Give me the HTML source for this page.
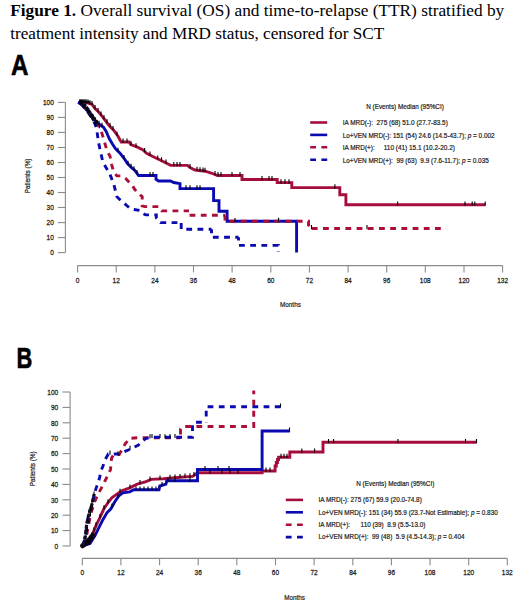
<!DOCTYPE html>
<html><head><meta charset="utf-8">
<style>
html,body{margin:0;padding:0;background:#fff;}
body{width:520px;height:604px;overflow:hidden;position:relative;}
svg{position:absolute;left:0;top:0;}
.tk{font-family:"Liberation Sans",sans-serif;font-size:7.6px;fill:#1a1a1a;stroke:#1a1a1a;stroke-width:0.25px;}
.tk8{font-family:"Liberation Sans",sans-serif;font-size:8px;fill:#1a1a1a;stroke:#1a1a1a;stroke-width:0.22px;}
.lg{font-family:"Liberation Sans",sans-serif;font-size:8.1px;fill:#1a1a1a;stroke:#1a1a1a;stroke-width:0.22px;}
.ttl{font-family:"Liberation Serif",serif;font-size:17.25px;fill:#000;}
.pl{font-family:"Liberation Sans",sans-serif;font-weight:bold;font-size:28.8px;fill:#000;stroke:#000;stroke-width:0.6px;}
</style></head><body>
<svg width="520" height="604" viewBox="0 0 520 604">
<text x="10.2" y="16.3" class="ttl" textLength="494" lengthAdjust="spacingAndGlyphs"><tspan font-weight="bold">Figure 1.</tspan> Overall survival (OS) and time-to-relapse (TTR) stratified by</text>
<text x="10.2" y="38.5" class="ttl" textLength="374" lengthAdjust="spacingAndGlyphs">treatment intensity and MRD status, censored for SCT</text>
<text transform="translate(11,74.8) scale(0.84,1)" class="pl">A</text>
<text transform="translate(16.5,367.6) scale(0.76,1)" class="pl">B</text>
<path d="M65.4,102.4 V252.6" stroke="#8a8a8a" stroke-width="1.1" fill="none"/>
<path d="M57.8,252.6 H65.4" stroke="#8a8a8a" stroke-width="1.1"/>
<text transform="translate(53.8,255.3) scale(0.86,1)" class="tk" text-anchor="end">0</text>
<path d="M57.8,237.6 H65.4" stroke="#8a8a8a" stroke-width="1.1"/>
<text transform="translate(53.8,240.3) scale(0.86,1)" class="tk" text-anchor="end">10</text>
<path d="M57.8,222.6 H65.4" stroke="#8a8a8a" stroke-width="1.1"/>
<text transform="translate(53.8,225.3) scale(0.86,1)" class="tk" text-anchor="end">20</text>
<path d="M57.8,207.5 H65.4" stroke="#8a8a8a" stroke-width="1.1"/>
<text transform="translate(53.8,210.2) scale(0.86,1)" class="tk" text-anchor="end">30</text>
<path d="M57.8,192.5 H65.4" stroke="#8a8a8a" stroke-width="1.1"/>
<text transform="translate(53.8,195.2) scale(0.86,1)" class="tk" text-anchor="end">40</text>
<path d="M57.8,177.5 H65.4" stroke="#8a8a8a" stroke-width="1.1"/>
<text transform="translate(53.8,180.2) scale(0.86,1)" class="tk" text-anchor="end">50</text>
<path d="M57.8,162.5 H65.4" stroke="#8a8a8a" stroke-width="1.1"/>
<text transform="translate(53.8,165.2) scale(0.86,1)" class="tk" text-anchor="end">60</text>
<path d="M57.8,147.5 H65.4" stroke="#8a8a8a" stroke-width="1.1"/>
<text transform="translate(53.8,150.2) scale(0.86,1)" class="tk" text-anchor="end">70</text>
<path d="M57.8,132.4 H65.4" stroke="#8a8a8a" stroke-width="1.1"/>
<text transform="translate(53.8,135.1) scale(0.86,1)" class="tk" text-anchor="end">80</text>
<path d="M57.8,117.4 H65.4" stroke="#8a8a8a" stroke-width="1.1"/>
<text transform="translate(53.8,120.1) scale(0.86,1)" class="tk" text-anchor="end">90</text>
<path d="M57.8,102.4 H65.4" stroke="#8a8a8a" stroke-width="1.1"/>
<text transform="translate(53.8,105.1) scale(0.86,1)" class="tk" text-anchor="end">100</text>
<path d="M77.6,265.6 H502.6" stroke="#8a8a8a" stroke-width="1.1" fill="none"/>
<path d="M77.6,265.6 v6.8" stroke="#8a8a8a" stroke-width="1.1"/>
<text transform="translate(77.6,282.6) scale(0.86,1)" class="tk" text-anchor="middle">0</text>
<path d="M116.2,265.6 v6.8" stroke="#8a8a8a" stroke-width="1.1"/>
<text transform="translate(116.2,282.6) scale(0.86,1)" class="tk" text-anchor="middle">12</text>
<path d="M154.9,265.6 v6.8" stroke="#8a8a8a" stroke-width="1.1"/>
<text transform="translate(154.9,282.6) scale(0.86,1)" class="tk" text-anchor="middle">24</text>
<path d="M193.5,265.6 v6.8" stroke="#8a8a8a" stroke-width="1.1"/>
<text transform="translate(193.5,282.6) scale(0.86,1)" class="tk" text-anchor="middle">36</text>
<path d="M232.1,265.6 v6.8" stroke="#8a8a8a" stroke-width="1.1"/>
<text transform="translate(232.1,282.6) scale(0.86,1)" class="tk" text-anchor="middle">48</text>
<path d="M270.8,265.6 v6.8" stroke="#8a8a8a" stroke-width="1.1"/>
<text transform="translate(270.8,282.6) scale(0.86,1)" class="tk" text-anchor="middle">60</text>
<path d="M309.4,265.6 v6.8" stroke="#8a8a8a" stroke-width="1.1"/>
<text transform="translate(309.4,282.6) scale(0.86,1)" class="tk" text-anchor="middle">72</text>
<path d="M348.1,265.6 v6.8" stroke="#8a8a8a" stroke-width="1.1"/>
<text transform="translate(348.1,282.6) scale(0.86,1)" class="tk" text-anchor="middle">84</text>
<path d="M386.7,265.6 v6.8" stroke="#8a8a8a" stroke-width="1.1"/>
<text transform="translate(386.7,282.6) scale(0.86,1)" class="tk" text-anchor="middle">96</text>
<path d="M425.3,265.6 v6.8" stroke="#8a8a8a" stroke-width="1.1"/>
<text transform="translate(425.3,282.6) scale(0.86,1)" class="tk" text-anchor="middle">108</text>
<path d="M464.0,265.6 v6.8" stroke="#8a8a8a" stroke-width="1.1"/>
<text transform="translate(464.0,282.6) scale(0.86,1)" class="tk" text-anchor="middle">120</text>
<path d="M502.6,265.6 v6.8" stroke="#8a8a8a" stroke-width="1.1"/>
<text transform="translate(502.6,282.6) scale(0.86,1)" class="tk" text-anchor="middle">132</text>
<text x="280.1" y="306.8" class="tk8" textLength="20.7" lengthAdjust="spacingAndGlyphs">Months</text>
<g transform="translate(30.3,193.3) rotate(-90)"><text x="0" y="0" class="tk8" textLength="34.8" lengthAdjust="spacingAndGlyphs">Patients (%)</text></g>
<path d="M70.1,392.0 V546.0" stroke="#8a8a8a" stroke-width="1.1" fill="none"/>
<path d="M62.5,546.0 H70.1" stroke="#8a8a8a" stroke-width="1.1"/>
<text transform="translate(58.2,548.7) scale(0.86,1)" class="tk" text-anchor="end">0</text>
<path d="M62.5,530.6 H70.1" stroke="#8a8a8a" stroke-width="1.1"/>
<text transform="translate(58.2,533.3) scale(0.86,1)" class="tk" text-anchor="end">10</text>
<path d="M62.5,515.2 H70.1" stroke="#8a8a8a" stroke-width="1.1"/>
<text transform="translate(58.2,517.9) scale(0.86,1)" class="tk" text-anchor="end">20</text>
<path d="M62.5,499.8 H70.1" stroke="#8a8a8a" stroke-width="1.1"/>
<text transform="translate(58.2,502.5) scale(0.86,1)" class="tk" text-anchor="end">30</text>
<path d="M62.5,484.4 H70.1" stroke="#8a8a8a" stroke-width="1.1"/>
<text transform="translate(58.2,487.1) scale(0.86,1)" class="tk" text-anchor="end">40</text>
<path d="M62.5,469.0 H70.1" stroke="#8a8a8a" stroke-width="1.1"/>
<text transform="translate(58.2,471.7) scale(0.86,1)" class="tk" text-anchor="end">50</text>
<path d="M62.5,453.6 H70.1" stroke="#8a8a8a" stroke-width="1.1"/>
<text transform="translate(58.2,456.3) scale(0.86,1)" class="tk" text-anchor="end">60</text>
<path d="M62.5,438.2 H70.1" stroke="#8a8a8a" stroke-width="1.1"/>
<text transform="translate(58.2,440.9) scale(0.86,1)" class="tk" text-anchor="end">70</text>
<path d="M62.5,422.8 H70.1" stroke="#8a8a8a" stroke-width="1.1"/>
<text transform="translate(58.2,425.5) scale(0.86,1)" class="tk" text-anchor="end">80</text>
<path d="M62.5,407.4 H70.1" stroke="#8a8a8a" stroke-width="1.1"/>
<text transform="translate(58.2,410.1) scale(0.86,1)" class="tk" text-anchor="end">90</text>
<path d="M62.5,392.0 H70.1" stroke="#8a8a8a" stroke-width="1.1"/>
<text transform="translate(58.2,394.7) scale(0.86,1)" class="tk" text-anchor="end">100</text>
<path d="M82.3,558.4 H507.3" stroke="#8a8a8a" stroke-width="1.1" fill="none"/>
<path d="M82.3,558.4 v6.8" stroke="#8a8a8a" stroke-width="1.1"/>
<text transform="translate(82.3,574.8) scale(0.86,1)" class="tk" text-anchor="middle">0</text>
<path d="M120.9,558.4 v6.8" stroke="#8a8a8a" stroke-width="1.1"/>
<text transform="translate(120.9,574.8) scale(0.86,1)" class="tk" text-anchor="middle">12</text>
<path d="M159.6,558.4 v6.8" stroke="#8a8a8a" stroke-width="1.1"/>
<text transform="translate(159.6,574.8) scale(0.86,1)" class="tk" text-anchor="middle">24</text>
<path d="M198.2,558.4 v6.8" stroke="#8a8a8a" stroke-width="1.1"/>
<text transform="translate(198.2,574.8) scale(0.86,1)" class="tk" text-anchor="middle">36</text>
<path d="M236.8,558.4 v6.8" stroke="#8a8a8a" stroke-width="1.1"/>
<text transform="translate(236.8,574.8) scale(0.86,1)" class="tk" text-anchor="middle">48</text>
<path d="M275.5,558.4 v6.8" stroke="#8a8a8a" stroke-width="1.1"/>
<text transform="translate(275.5,574.8) scale(0.86,1)" class="tk" text-anchor="middle">60</text>
<path d="M314.1,558.4 v6.8" stroke="#8a8a8a" stroke-width="1.1"/>
<text transform="translate(314.1,574.8) scale(0.86,1)" class="tk" text-anchor="middle">72</text>
<path d="M352.8,558.4 v6.8" stroke="#8a8a8a" stroke-width="1.1"/>
<text transform="translate(352.8,574.8) scale(0.86,1)" class="tk" text-anchor="middle">84</text>
<path d="M391.4,558.4 v6.8" stroke="#8a8a8a" stroke-width="1.1"/>
<text transform="translate(391.4,574.8) scale(0.86,1)" class="tk" text-anchor="middle">96</text>
<path d="M430.0,558.4 v6.8" stroke="#8a8a8a" stroke-width="1.1"/>
<text transform="translate(430.0,574.8) scale(0.86,1)" class="tk" text-anchor="middle">108</text>
<path d="M468.7,558.4 v6.8" stroke="#8a8a8a" stroke-width="1.1"/>
<text transform="translate(468.7,574.8) scale(0.86,1)" class="tk" text-anchor="middle">120</text>
<path d="M507.3,558.4 v6.8" stroke="#8a8a8a" stroke-width="1.1"/>
<text transform="translate(507.3,574.8) scale(0.86,1)" class="tk" text-anchor="middle">132</text>
<text x="284.3" y="599.9" class="tk8" textLength="20.7" lengthAdjust="spacingAndGlyphs">Months</text>
<g transform="translate(34.9,486.2) rotate(-90)"><text x="0" y="0" class="tk8" textLength="34.8" lengthAdjust="spacingAndGlyphs">Patients (%)</text></g>
<path d="M78,102.4 H86 L92,104.3 L95,108.5 L98.6,112 L101.8,115.8 L105,120 L108,124 L110.9,127.5 L113.5,130 L117.8,136 L121.2,142 H129.2 L130.8,144.6 L136.9,146.9 L143.1,150 L146.2,153.1 L152.3,156.2 L158.5,159.2 L164.6,162.3 L170.6,165.4 H187.5 L190,167.5 L195,170 L205,171.2 L211.2,173 L217.5,175.5 H242 V179.5 H277.2 V182.6 H291.8 V187.6 H339.8 V194.7 H345.9 V204.8 H485.5" stroke="#a50e3c" stroke-width="2.9" fill="none" stroke-linejoin="miter"/>
<path d="M78,102.4 L82,104.5 L86.5,109.5 L90.5,115 L94.5,120 L98,123.5 L101,125.5 L103.5,127.2 L106.2,131.5 L109.2,138.5 L112.3,143.8 L115.4,148.5 L120,153.1 L124.6,159.2 L127.7,163.8 L132.3,168.5 L134.5,170 L138.6,175.5 H156 V179.3 L158.5,181 H170.6 L173.7,182.5 L180,183.7 V188.6 H213.6 V200.6 H219 V211.3 H227.1 V221.3 H296.6 V252.5" stroke="#0a0ab0" stroke-width="2.9" fill="none" stroke-linejoin="miter"/>
<path d="M78,102.4 L84,106 L89,112 L94,119 L98,125 L100.5,129 L102.9,136.5 L107.2,151.5 L110,156 L111.7,164.6 L113.5,171.5 L116.9,175.9 H120.4 L125.6,178.5 L129,182 L132.5,185.4 L134.2,188.8 L137.3,192.4 L142.2,196.7 V205.8 L145,206.6 H159 L161.7,210.9 H189" stroke="#ad0e38" stroke-width="2.9" fill="none" stroke-dasharray="5.8 5.4" stroke-dashoffset="6.39"/>
<path d="M189,210.9 V215.2 H225" stroke="#ad0e38" stroke-width="2.9" fill="none" stroke-dasharray="5.8 5.4" stroke-dashoffset="6.30"/>
<path d="M225,215.2 V221.2 H308.5 V225 L311.5,228.5" stroke="#ad0e38" stroke-width="2.9" fill="none" stroke-dasharray="5.8 5.4" stroke-dashoffset="0.60"/>
<path d="M311.5,228.5 H442" stroke="#ad0e38" stroke-width="2.9" fill="none" stroke-dasharray="5.8 5.4" stroke-dashoffset="10.90"/>
<path d="M78,102.4 L82,105 L87,111 L92,118 L95,124 L96.5,128 L98.6,142.9 L102.9,162.3 L109.4,173 L113.7,183.8 L116.9,196.7 L120,199.7 L125.4,204.4 L130.8,209.1 L140.2,210.5 L141.5,212.5 L145.6,214.9 H156.3 V218 L160.4,222.6 H181.2" stroke="#0a0ab0" stroke-width="2.9" fill="none" stroke-dasharray="5.8 5.4" stroke-dashoffset="8.25"/>
<path d="M181.2,222.6 V229.2 H211.5" stroke="#0a0ab0" stroke-width="2.9" fill="none" stroke-dasharray="5.8 5.4" stroke-dashoffset="10.70"/>
<path d="M211.5,229.2 V237.3 H238.5" stroke="#0a0ab0" stroke-width="2.9" fill="none" stroke-dasharray="5.8 5.4" stroke-dashoffset="1.70"/>
<path d="M238.5,237.3 V245.4 H278.3 V251.5" stroke="#0a0ab0" stroke-width="2.9" fill="none" stroke-dasharray="5.8 5.4" stroke-dashoffset="2.60"/>
<path d="M80,101.8 L83,103.5 L86.8,108.8 L91.1,115.2 L94.8,120.6 L98,124.8" stroke="#120c30" stroke-width="4.4" fill="none" stroke-dasharray="3.2 0.9"/>
<path d="M80,101 L90,102.2" stroke="#14102a" stroke-width="2.4" fill="none"/>
<path d="M80.0,99.0v4.2 M82.0,99.0v4.2 M84.0,99.0v4.2 M86.0,99.0v4.2 M88.0,99.6v4.2 M90.0,100.3v4.2 M92.0,100.9v4.2 M95.0,105.1v4.2 M98.0,108.0v4.2 M101.0,111.5v4.2 M104.0,115.3v4.2 M107.0,119.3v4.2 M110.0,123.0v4.2 M113.0,126.1v4.2 M117.0,131.5v4.2 M123.0,138.6v4.2 M127.0,138.6v4.2 M131.0,141.3v4.2 M136.0,143.2v4.2 M144.6,148.1v4.2 M150.0,151.6v4.2 M157.7,155.4v4.2 M161.5,157.3v4.2 M166.0,159.6v4.2 M173.8,162.0v4.2 M177.0,162.0v4.2 M180.0,162.0v4.2 M190.0,164.1v4.2 M197.0,166.8v4.2 M200.0,167.2v4.2 M203.0,167.6v4.2 M205.0,167.8v4.2 M215.0,171.1v4.2 M218.0,172.1v4.2 M221.0,172.1v4.2 M232.0,172.1v4.2 M240.0,172.1v4.2 M262.0,176.1v4.2 M269.0,176.1v4.2 M272.0,176.1v4.2 M281.0,179.2v4.2 M285.0,179.2v4.2 M289.0,179.2v4.2 M334.9,184.2v4.2 M397.6,201.4v4.2 M465.0,201.4v4.2 M472.2,201.4v4.2 M474.8,201.4v4.2 M485.2,201.4v4.2" stroke="#000" stroke-width="1.1" fill="none"/>
<path d="M80.0,100.0v4.2 M83.0,102.2v4.2 M87.0,106.8v4.2 M91.0,112.2v4.2 M95.0,117.1v4.2 M99.0,120.8v4.2 M102.0,122.8v4.2 M118.0,147.7v4.2 M124.0,155.0v4.2 M128.0,160.7v4.2 M131.0,163.8v4.2 M134.0,166.3v4.2 M137.0,170.0v4.2 M150.0,172.1v4.2 M153.0,172.1v4.2 M186.0,185.2v4.2 M190.0,185.2v4.2 M197.0,185.2v4.2 M200.0,185.2v4.2 M235.0,217.9v4.2" stroke="#000" stroke-width="1.1" fill="none"/>
<path d="M81.0,100.8v4.2 M85.0,103.8v4.2 M89.0,108.6v4.2 M93.0,114.2v4.2 M97.0,120.1v4.2 M99.5,124.0v4.2 M278.5,217.8v4.2 M311.5,225.1v4.2 M367.0,225.1v4.2" stroke="#000" stroke-width="1.1" fill="none"/>
<path d="M80.0,100.3v4.2 M84.0,104.0v4.2 M88.0,109.0v4.2 M92.0,114.6v4.2 M95.5,121.9v4.2" stroke="#000" stroke-width="1.1" fill="none"/>
<path d="M83.6,545.5 L88,542 L92,535.6 L96,525.7 L99.9,517.7 L103.9,508.8 L107.9,502.8 L111.8,497.9 L115.8,494.9 L121.8,490.9 L129.7,487.9 L137.3,484.2 L146,481.6 L151.2,479.4 L163.3,478.7 L180.6,477.3 L192.7,476.4 L196.2,473.8 L197.9,472.8 H262.1 V471 H275.1 V466 H276.3 V462.5 H277.5 V459.5 H278.6 V457.2 H289.8 V452 H323 V442.3 H476.7" stroke="#a50e3c" stroke-width="2.9" fill="none" stroke-linejoin="miter"/>
<path d="M83.6,545.5 L90,543.5 L95,535.6 L98.9,527.7 L102.9,519.7 L106.9,512.8 L110.9,508.8 L114.8,501.8 L118.8,495.9 L122.8,492.9 L129.7,491.9 L133.8,489.8 H159 L159.8,486 L165.9,484.2 L166.7,480.8 H197.5 V469.5 H262.1 V431 H289.8" stroke="#0a0ab0" stroke-width="2.9" fill="none" stroke-linejoin="miter"/>
<path d="M84,545.5 L86.3,537 L88.3,526 L90.3,516.4 L91.8,510.6 L94.8,501.5 L98.1,494 L102.2,486.6 L105.5,479.9 L107.5,476 L110.5,469.5 L111.6,458 L113.7,454.7 L119.2,454.6 L125,444 L129.8,438.3 L138.5,437.7 H180.5" stroke="#ad0e38" stroke-width="2.9" fill="none" stroke-dasharray="5.8 5.4" stroke-dashoffset="0.00"/>
<path d="M180.5,437.7 V429 L183,426.5 H253.75 V390.5" stroke="#ad0e38" stroke-width="2.9" fill="none" stroke-dasharray="5.8 5.4" stroke-dashoffset="7.96"/>
<path d="M83.3,545.5 L84.5,540 L85.8,533.1 L86.6,524.9 L88.3,516.6 L89.9,510.8 L91.5,506 L93,500 L94.2,494 L96.4,487.4 L99.7,477.5 L100.6,471.7 L103,466 L105,460 L108.3,454 H119.2 L128.8,449.8 L138.5,445 L143.3,440.2 L146.2,438.3 L152,437.3 H192.5 V424 L195,422.3 H206.2" stroke="#0a0ab0" stroke-width="2.9" fill="none" stroke-dasharray="5.8 5.4" stroke-dashoffset="0.00"/>
<path d="M206.2,422.3 V406.8 H280.8" stroke="#0a0ab0" stroke-width="2.9" fill="none" stroke-dasharray="5.8 5.4" stroke-dashoffset="5.50"/>
<path d="M82.5,545.8 L86,543 L89.5,539.5 L93,535.2" stroke="#12061a" stroke-width="5" fill="none" stroke-linecap="round"/>
<path d="M83.5,545 L84.8,538 L85.8,533.1 L86.6,524.9 L88.3,516.6 L89.9,510.8 L91.5,506 L93,500 L94.2,494" stroke="#14102a" stroke-width="3.2" fill="none" stroke-dasharray="4 1.5"/>
<path d="M86.0,540.2v4.2 M88.0,538.6v4.2 M90.0,535.4v4.2 M92.0,532.2v4.2 M94.0,527.3v4.2 M96.0,522.3v4.2 M100.0,514.1v4.2 M104.0,505.3v4.2 M108.0,499.3v4.2 M120.0,488.7v4.2 M130.0,484.4v4.2 M140.0,480.0v4.2 M150.0,476.5v4.2 M160.0,475.5v4.2 M170.0,474.8v4.2 M175.0,474.4v4.2 M180.0,473.9v4.2 M185.0,473.6v4.2 M190.0,473.2v4.2 M194.0,472.0v4.2 M210.0,469.4v4.2 M222.0,469.4v4.2 M230.0,469.4v4.2 M238.0,469.4v4.2 M266.0,467.6v4.2 M270.0,467.6v4.2 M281.0,453.8v4.2 M284.0,453.8v4.2 M287.0,453.8v4.2 M301.8,448.6v4.2 M314.6,448.6v4.2 M328.5,438.9v4.2 M333.6,438.9v4.2 M397.9,438.9v4.2 M465.5,438.9v4.2 M476.5,438.9v4.2" stroke="#000" stroke-width="1.1" fill="none"/>
<path d="M86.0,541.4v4.2 M88.0,540.7v4.2 M90.0,540.1v4.2 M92.0,536.9v4.2 M112.0,503.4v4.2 M118.0,493.7v4.2 M136.0,486.4v4.2 M140.0,486.4v4.2 M144.0,486.4v4.2 M148.0,486.4v4.2 M152.0,486.4v4.2 M156.0,486.4v4.2 M162.0,482.0v4.2 M168.0,477.4v4.2 M175.0,477.4v4.2 M190.0,477.4v4.2 M205.0,466.1v4.2 M218.0,466.1v4.2 M229.0,466.1v4.2 M289.5,427.6v4.2" stroke="#000" stroke-width="1.1" fill="none"/>
<path d="M86.0,534.7v4.2 M87.5,527.0v4.2 M89.0,519.2v4.2 M90.5,512.2v4.2 M92.0,506.6v4.2 M118.0,451.2v4.2 M150.0,434.3v4.2 M165.0,434.3v4.2" stroke="#000" stroke-width="1.1" fill="none"/>
<path d="M86.0,527.6v4.2 M87.5,517.1v4.2 M89.0,510.7v4.2 M90.5,505.6v4.2 M92.0,500.6v4.2 M94.0,491.6v4.2 M110.0,450.6v4.2 M130.0,445.8v4.2 M152.0,433.9v4.2 M160.0,433.9v4.2 M170.0,433.9v4.2 M175.0,433.9v4.2 M280.5,403.4v4.2" stroke="#000" stroke-width="1.1" fill="none"/>
<text x="366.2" y="108.6" class="lg" textLength="77.6" lengthAdjust="spacingAndGlyphs">N (Events) Median (95%CI)</text>
<path d="M310.2,122.5 H327.2" stroke="#a50e3c" stroke-width="2.6"/>
<text x="342.7" y="125.1" class="lg" textLength="105.1" lengthAdjust="spacingAndGlyphs">IA MRD(-):&#160; 275 (68) 51.0 (27.7-83.5)</text>
<path d="M310.2,134.9 H327.2" stroke="#0a0ab0" stroke-width="2.6"/>
<text x="342.7" y="137.8" class="lg" textLength="151.9" lengthAdjust="spacingAndGlyphs">Lo+VEN MRD(-): 151 (54) 24.6 (14.5-43.7); <tspan font-style='italic'>p</tspan> = 0.002</text>
<path d="M310.2,147.3 H327.2" stroke="#ad0e38" stroke-width="2.6" stroke-dasharray="5.8 5.4"/>
<text x="342.7" y="149.9" class="lg" textLength="112.2" lengthAdjust="spacingAndGlyphs">IA MRD(+):&#160;&#160;&#160;&#160; 110 (41) 15.1 (10.2-20.2)</text>
<path d="M310.2,159.8 H327.2" stroke="#0a0ab0" stroke-width="2.6" stroke-dasharray="5.8 5.4"/>
<text x="342.7" y="162.6" class="lg" textLength="146.1" lengthAdjust="spacingAndGlyphs">Lo+VEN MRD(+):&#160; 99 (63)&#160; 9.9 (7.6-11.7); <tspan font-style='italic'>p</tspan> = 0.035</text>
<text x="356.2" y="485.6" class="lg" textLength="78.1" lengthAdjust="spacingAndGlyphs">N (Events) Median (95%CI)</text>
<path d="M285.8,499.9 H303" stroke="#a50e3c" stroke-width="2.6"/>
<text x="318.5" y="502.3" class="lg" textLength="103.3" lengthAdjust="spacingAndGlyphs">IA MRD(-): 275 (67) 59.9 (20.0-74.8)</text>
<path d="M285.8,512.3 H303" stroke="#0a0ab0" stroke-width="2.6"/>
<text x="318.5" y="515.0" class="lg" textLength="179.3" lengthAdjust="spacingAndGlyphs">Lo+VEN MRD(-): 151 (34) 55.9 (23.7-Not Estimable); <tspan font-style='italic'>p</tspan> = 0.830</text>
<path d="M285.8,524.7 H303" stroke="#ad0e38" stroke-width="2.6" stroke-dasharray="5.8 5.4"/>
<text x="318.5" y="527.1" class="lg" textLength="106.8" lengthAdjust="spacingAndGlyphs">IA MRD(+):&#160;&#160;&#160;&#160;&#160; 110 (39)&#160; 8.9 (5.5-13.0)</text>
<path d="M285.8,537.1 H303" stroke="#0a0ab0" stroke-width="2.6" stroke-dasharray="5.8 5.4"/>
<text x="318.5" y="539.2" class="lg" textLength="146.0" lengthAdjust="spacingAndGlyphs">Lo+VEN MRD(+):&#160; 99 (48)&#160; 5.9 (4.5-14.3); <tspan font-style='italic'>p</tspan> = 0.404</text>
</svg>
</body></html>
